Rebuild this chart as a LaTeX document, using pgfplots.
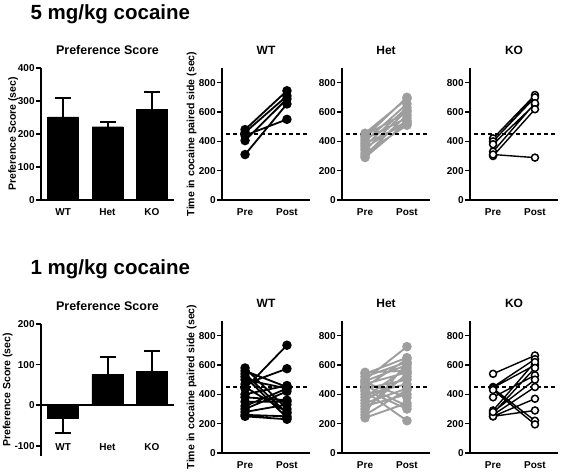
\documentclass[border=0pt]{standalone}
\usepackage{fontspec}
\setmainfont{Liberation Sans}
\usepackage{pgfplots}
\pgfplotsset{compat=1.18}
\usepackage{pgfplotstable}
\definecolor{hetgray}{RGB}{158,158,158}

% ---------- data ----------
\pgfplotstableread{
x y ep em
0 252 56 0
1 222 13 0
2 275 52 0
}\topbars
\pgfplotstableread{
x y ep em
1 76 42 0
2 84 50 0
}\botbarspos
\pgfplotstableread{
x y ep em
0 -33 0 35
}\botbarsneg

\pgfplotstableread{
x y
0 480
1 745
0 nan
0 460
1 710
0 nan
0 440
1 550
0 nan
0 405
1 690
0 nan
0 310
1 655
}\topWT

\pgfplotstableread{
x y
0 455
1 690
0 nan
0 440
1 600
0 nan
0 430
1 700
0 nan
0 415
1 560
0 nan
0 400
1 655
0 nan
0 385
1 520
0 nan
0 370
1 630
0 nan
0 355
1 540
0 nan
0 340
1 610
0 nan
0 320
1 510
0 nan
0 305
1 580
0 nan
0 290
1 530
}\topHet

\pgfplotstableread{
x y
0 420
1 716
0 nan
0 400
1 700
0 nan
0 380
1 653
0 nan
0 330
1 660
0 nan
0 300
1 619
0 nan
0 310
1 289
}\topKO

\pgfplotstableread{
x y
0 440
1 735
0 nan
0 470
1 575
0 nan
0 560
1 450
0 nan
0 580
1 300
0 nan
0 540
1 270
0 nan
0 520
1 240
0 nan
0 500
1 440
0 nan
0 400
1 460
0 nan
0 350
1 350
0 nan
0 300
1 420
0 nan
0 280
1 330
0 nan
0 260
1 250
0 nan
0 250
1 230
0 nan
0 450
1 280
0 nan
0 380
1 360
0 nan
0 320
1 440
}\botWT

\pgfplotstableread{
x y
0 550
1 560
0 nan
0 540
1 650
0 nan
0 520
1 620
0 nan
0 500
1 725
0 nan
0 490
1 600
0 nan
0 480
1 380
0 nan
0 470
1 550
0 nan
0 460
1 320
0 nan
0 450
1 640
0 nan
0 440
1 500
0 nan
0 430
1 300
0 nan
0 420
1 220
0 nan
0 400
1 470
0 nan
0 380
1 580
0 nan
0 360
1 520
0 nan
0 340
1 440
0 nan
0 320
1 400
0 nan
0 300
1 540
0 nan
0 280
1 610
0 nan
0 240
1 340
0 nan
0 260
1 430
}\botHet

\pgfplotstableread{
x y
0 540
1 665
0 nan
0 450
1 640
0 nan
0 445
1 600
0 nan
0 440
1 220
0 nan
0 430
1 195
0 nan
0 380
1 530
0 nan
0 290
1 620
0 nan
0 270
1 580
0 nan
0 260
1 450
0 nan
0 250
1 370
0 nan
0 250
1 290
0 nan
0 280
1 500
}\botKO

\pgfplotsset{
  base/.style={
    scale only axis,
    axis lines=left,
    axis line style={-, line width=1.5pt},
    tick style={line width=1.5pt, black},
    major tick length=5pt,
    tick align=outside,
    ytick pos=left,
    xtick style={draw=none},
    /pgf/number format/assume math mode=true,
    ticklabel style={font=\bfseries\fontsize{10}{12}\selectfont},
    yticklabel style={inner sep=1.2pt},
    every axis title/.style={at={(0.5,1)}, anchor=center, yshift=18pt,
      font=\bfseries\fontsize{12}{14}\selectfont},
    height=132pt,
    clip=false,
  },
  ylab/.style={every axis y label/.style={at={(axis description cs:#1,0.5)},
      rotate=90, anchor=center, font=\bfseries\fontsize{10.5}{12}\selectfont}},
  prepost/.style={base, width=88pt, xmin=-0.55, xmax=1.55, ymin=0, ymax=900,
    ytick={0,200,400,600,800}, xtick={0,1}, xticklabels={Pre,Post}},
  barax/.style={base, width=133pt, xmin=-0.5, xmax=2.5,
    xtick={0,1,2}, xticklabels={WT,Het,KO},
    ylabel={Preference Score (sec)},
    every axis title/.style={at={(0.5,1)}, anchor=center, yshift=18pt,
      font=\bfseries\fontsize{12.5}{14}\selectfont}},
  wtline/.style={black, line width=1.8pt, mark=*, mark size=3.8pt,
    mark options={solid, fill=black, draw=black}, unbounded coords=jump},
  hetline/.style={hetgray, line width=1.9pt, mark=*, mark size=3.8pt,
    mark options={solid, fill=hetgray, draw=hetgray}, unbounded coords=jump},
  koline/.style={black, line width=1.4pt, mark=*, mark size=3.5pt,
    mark options={solid, fill=white, draw=black, line width=1.5pt}, unbounded coords=jump},
  dash450/.style={black, line width=2pt, dash pattern=on 4pt off 3pt, forget plot},
  barstyle/.style={ybar, bar width=31pt, bar shift=0pt, fill=black, draw=black,
    error bars/.cd, y explicit, y dir=#1,
    error bar style={line width=2pt, black},
    error mark options={rotate=90, mark size=8pt, line width=2pt, black}},
}

\begin{document}
\begin{tikzpicture}
\useasboundingbox (0pt,0pt) rectangle (561pt,471pt);

\node[anchor=base west, font=\bfseries\fontsize{20.5}{24}\selectfont] at (27pt,451pt) {5 mg/kg cocaine};
\node[anchor=base west, font=\bfseries\fontsize{20.5}{24}\selectfont] at (27pt,196.5pt) {1 mg/kg cocaine};

% ----- top row -----
\begin{axis}[barax, ylab=-0.21, at={(41pt,271pt)}, anchor=south west,
  ymin=0, ymax=400, ytick={0,100,200,300,400}, title={Preference Score}]
\addplot[barstyle=plus] table[x=x, y=y, y error plus=ep, y error minus=em] {\topbars};
\end{axis}

\begin{axis}[prepost, ylab=-0.345, ylabel={Time in cocaine paired side (sec)},
  at={(222pt,271pt)}, anchor=south west, title={WT}]
\addplot[wtline] table[x=x, y=y] {\topWT};
\addplot[dash450] coordinates {(-0.45,450) (1.55,450)};
\end{axis}

\begin{axis}[prepost, at={(342pt,271pt)}, anchor=south west, title={Het}]
\addplot[hetline] table[x=x, y=y] {\topHet};
\addplot[dash450] coordinates {(-0.45,450) (1.55,450)};
\end{axis}

\begin{axis}[prepost, at={(470pt,271pt)}, anchor=south west, title={KO}]
\addplot[koline] table[x=x, y=y] {\topKO};
\addplot[dash450] coordinates {(-0.45,450) (1.55,450)};
\end{axis}

% ----- bottom row -----
\begin{axis}[barax, ylab=-0.25, at={(41pt,15pt)}, anchor=south west,
  ymin=-125, ymax=200, ytick={-100,0,100,200}, title={Preference Score},
  x axis line style={draw=none}, xticklabel style={yshift=21pt}]
\addplot[black, line width=1.5pt, forget plot] coordinates {(-0.5,0) (2.5,0)};
\addplot[barstyle=plus] table[x=x, y=y, y error plus=ep, y error minus=em] {\botbarspos};
\addplot[barstyle=minus] table[x=x, y=y, y error plus=ep, y error minus=em] {\botbarsneg};
\end{axis}

\begin{axis}[prepost, ylab=-0.345, ylabel={Time in cocaine paired side (sec)},
  at={(222pt,18pt)}, anchor=south west, title={WT}]
\addplot[wtline] table[x=x, y=y] {\botWT};
\addplot[dash450] coordinates {(-0.45,450) (1.55,450)};
\end{axis}

\begin{axis}[prepost, at={(342pt,18pt)}, anchor=south west, title={Het}]
\addplot[hetline] table[x=x, y=y] {\botHet};
\addplot[dash450] coordinates {(-0.45,450) (1.55,450)};
\end{axis}

\begin{axis}[prepost, at={(470pt,18pt)}, anchor=south west, title={KO}]
\addplot[koline] table[x=x, y=y] {\botKO};
\addplot[dash450] coordinates {(-0.45,450) (1.55,450)};
\end{axis}

\end{tikzpicture}
\end{document}
